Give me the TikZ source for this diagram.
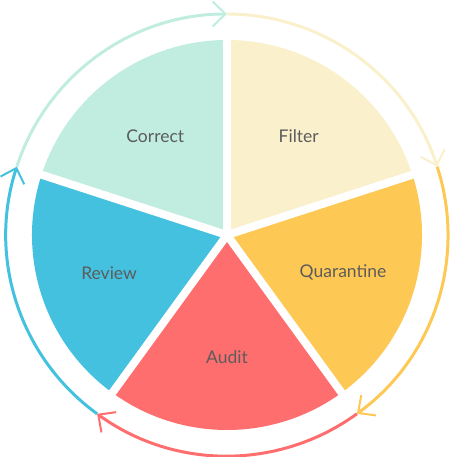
\documentclass[tikz,border=0pt]{standalone}
\usepackage{fontspec}
\setmainfont{Lato}
\usepackage{tikz}
\usetikzlibrary{arrows.meta}
\usepackage{xcolor}
\definecolor{correctmint}{HTML}{C0EDDF}
\definecolor{filtercream}{HTML}{FAF0CC}
\definecolor{quarorange}{HTML}{FEC855}
\definecolor{auditred}{HTML}{FF6E6F}
\definecolor{reviewblue}{HTML}{45C1E0}
\definecolor{labelgray}{HTML}{5C5C5C}
\tikzset{
  slicelabel/.style={
    font=\fontsize{17.5}{20}\selectfont,
    text=labelgray,
    anchor=center
  },
  gapline/.style={
    draw=white,
    line width=8pt
  },
  cyclearrow/.style={
    line width=3pt,
    -{Straight Barb[length=13pt,width=25pt,line width=2pt]}
  }
}

\begin{document}
\begin{tikzpicture}[x=1pt,y=1pt]
\useasboundingbox (-227,-222) rectangle (222,235);
% slices
\foreach \s/\e/\c in {90/162/correctmint,18/90/filtercream,-54/18/quarorange,-126/-54/auditred,-198/-126/reviewblue} {
  \fill[\c] (0,0) -- (\s:195) arc (\s:\e:195) -- cycle;
}
% white gaps between slices
\foreach \a in {90,18,-54,-126,162} {
  \draw[gapline] (0,0) -- (\a:200);
}
% labels
\node[slicelabel] (correct) at (126:122) {Correct};
\node[slicelabel] (filter) at (54:122) {Filter};
\node[slicelabel] (quar) at (-18:122) {Quarantine};
\node[slicelabel] (audit) at (-90:122) {Audit};
\node[slicelabel] (review) at (198:124) {Review};
% outer cycle
\foreach \s/\e/\c in {162/90/correctmint,90/18/filtercream,18/-54/quarorange,-54/-126/auditred,-126/-198/reviewblue} {
  \draw[cyclearrow,\c] (\s:221) arc (\s:\e:221);
}
\end{tikzpicture}
\end{document}
